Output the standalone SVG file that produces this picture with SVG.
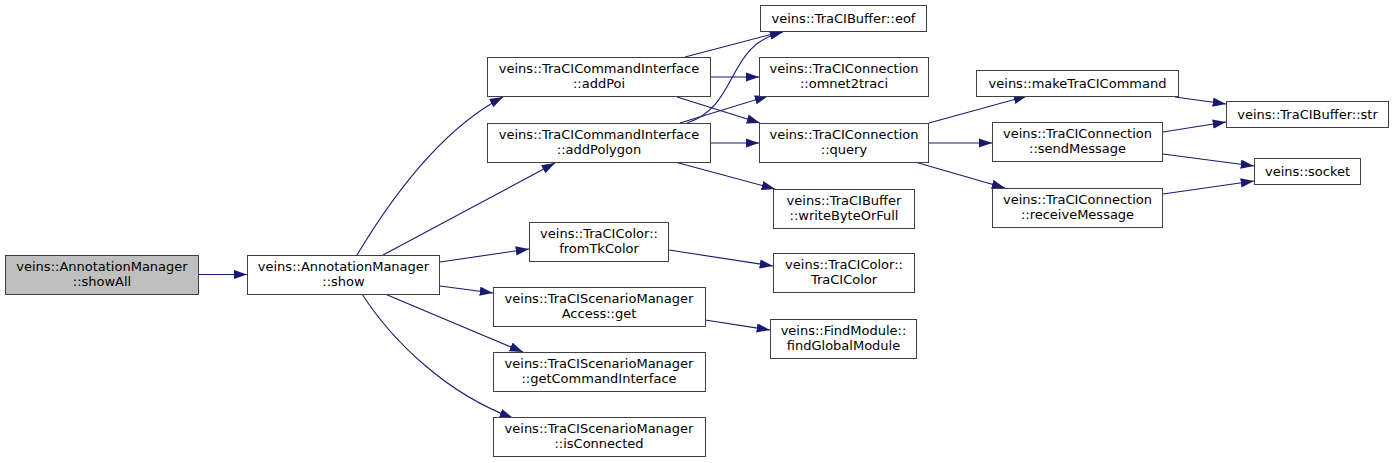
<svg xmlns="http://www.w3.org/2000/svg" width="1395" height="463" viewBox="0 0 1395 463">
<style>
.n rect{fill:#ffffff;stroke:#404040;stroke-width:1}
.n.root rect{fill:#bfbfbf}
.n text{font-family:"DejaVu Sans","Liberation Sans",sans-serif;font-size:13px;fill:#000000;text-anchor:middle}
.e path{fill:none;stroke:#191970;stroke-width:1.1}
</style>
<defs>
<marker id="ah" markerUnits="userSpaceOnUse" markerWidth="14" markerHeight="10" refX="13.3" refY="4.65" orient="auto">
<path d="M0,0 L13.3,4.65 L0,9.3 z" fill="#191970"/>
</marker>
</defs>
<rect width="1395" height="463" fill="#ffffff"/>
<g id="edges" class="e">
<path marker-end="url(#ah)" d="M199,274.5 L247,274.5"/>
<path marker-end="url(#ah)" d="M357,255 C390,200 440,130 503,97"/>
<path marker-end="url(#ah)" d="M383,255 L555,163"/>
<path marker-end="url(#ah)" d="M440,262 L529,249"/>
<path marker-end="url(#ah)" d="M440,286 L493,293"/>
<path marker-end="url(#ah)" d="M385,294 L523,352"/>
<path marker-end="url(#ah)" d="M362,294 C395,345 450,395 513,418"/>
<path marker-end="url(#ah)" d="M685,57 L784,31"/>
<path marker-end="url(#ah)" d="M687,123 C740,105 725,45 783,32"/>
<path marker-end="url(#ah)" d="M710,77 L759,77"/>
<path marker-end="url(#ah)" d="M677,97 L760,123"/>
<path marker-end="url(#ah)" d="M680,123 L768,96"/>
<path marker-end="url(#ah)" d="M710,143 L759,143"/>
<path marker-end="url(#ah)" d="M675,162 L775,189"/>
<path marker-end="url(#ah)" d="M669,250 L773,266"/>
<path marker-end="url(#ah)" d="M705,320 L770,330"/>
<path marker-end="url(#ah)" d="M929,123 L1027,96"/>
<path marker-end="url(#ah)" d="M929,143 L992,143"/>
<path marker-end="url(#ah)" d="M915,162 L1005,188"/>
<path marker-end="url(#ah)" d="M1175,97 L1226,104"/>
<path marker-end="url(#ah)" d="M1163,132 L1226,122"/>
<path marker-end="url(#ah)" d="M1163,154 L1254,166"/>
<path marker-end="url(#ah)" d="M1163,194 L1254,181"/>
</g>
<g id="showAll" class="n root"><rect x="5.5" y="255.5" width="193" height="39"/><text x="102" y="271">veins::AnnotationManager</text><text x="102" y="286">::showAll</text></g>
<g id="show" class="n"><rect x="247.5" y="255.5" width="192" height="39"/><text x="343.5" y="271">veins::AnnotationManager</text><text x="343.5" y="286">::show</text></g>
<g id="addPoi" class="n"><rect x="487.5" y="57.5" width="223" height="39"/><text x="599" y="73">veins::TraCICommandInterface</text><text x="599" y="88">::addPoi</text></g>
<g id="addPolygon" class="n"><rect x="487.5" y="123.5" width="223" height="39"/><text x="599" y="139">veins::TraCICommandInterface</text><text x="599" y="154">::addPolygon</text></g>
<g id="eof" class="n"><rect x="760.5" y="5.5" width="166" height="26"/><text x="843.5" y="23">veins::TraCIBuffer::eof</text></g>
<g id="omnet2traci" class="n"><rect x="759.5" y="57.5" width="169" height="39"/><text x="844" y="73">veins::TraCIConnection</text><text x="844" y="88">::omnet2traci</text></g>
<g id="query" class="n"><rect x="759.5" y="123.5" width="169" height="39"/><text x="844" y="139">veins::TraCIConnection</text><text x="844" y="154">::query</text></g>
<g id="writeByteOrFull" class="n"><rect x="773.5" y="189.5" width="141" height="39"/><text x="844" y="205">veins::TraCIBuffer</text><text x="844" y="220">::writeByteOrFull</text></g>
<g id="fromTkColor" class="n"><rect x="529.5" y="222.5" width="139" height="39"/><text x="599" y="238">veins::TraCIColor::</text><text x="599" y="253">fromTkColor</text></g>
<g id="TraCIColor" class="n"><rect x="773.5" y="253.5" width="141" height="39"/><text x="844" y="269">veins::TraCIColor::</text><text x="844" y="284">TraCIColor</text></g>
<g id="get" class="n"><rect x="493.5" y="287.5" width="212" height="39"/><text x="599" y="303">veins::TraCIScenarioManager</text><text x="599" y="318">Access::get</text></g>
<g id="findGlobalModule" class="n"><rect x="770.5" y="319.5" width="146" height="39"/><text x="843.5" y="335">veins::FindModule::</text><text x="843.5" y="350">findGlobalModule</text></g>
<g id="getCommandInterface" class="n"><rect x="493.5" y="352.5" width="212" height="39"/><text x="599" y="368">veins::TraCIScenarioManager</text><text x="599" y="383">::getCommandInterface</text></g>
<g id="isConnected" class="n"><rect x="493.5" y="417.5" width="212" height="39"/><text x="599" y="433">veins::TraCIScenarioManager</text><text x="599" y="448">::isConnected</text></g>
<g id="makeTraCICommand" class="n"><rect x="976.5" y="70.5" width="202" height="26"/><text x="1077.5" y="88">veins::makeTraCICommand</text></g>
<g id="sendMessage" class="n"><rect x="992.5" y="122.5" width="170" height="39"/><text x="1077.5" y="138">veins::TraCIConnection</text><text x="1077.5" y="153">::sendMessage</text></g>
<g id="receiveMessage" class="n"><rect x="992.5" y="188.5" width="170" height="39"/><text x="1077.5" y="204">veins::TraCIConnection</text><text x="1077.5" y="219">::receiveMessage</text></g>
<g id="str" class="n"><rect x="1226.5" y="101.5" width="162" height="26"/><text x="1307.5" y="119">veins::TraCIBuffer::str</text></g>
<g id="socket" class="n"><rect x="1254.5" y="158.5" width="106" height="26"/><text x="1307.5" y="176">veins::socket</text></g>
</svg>
